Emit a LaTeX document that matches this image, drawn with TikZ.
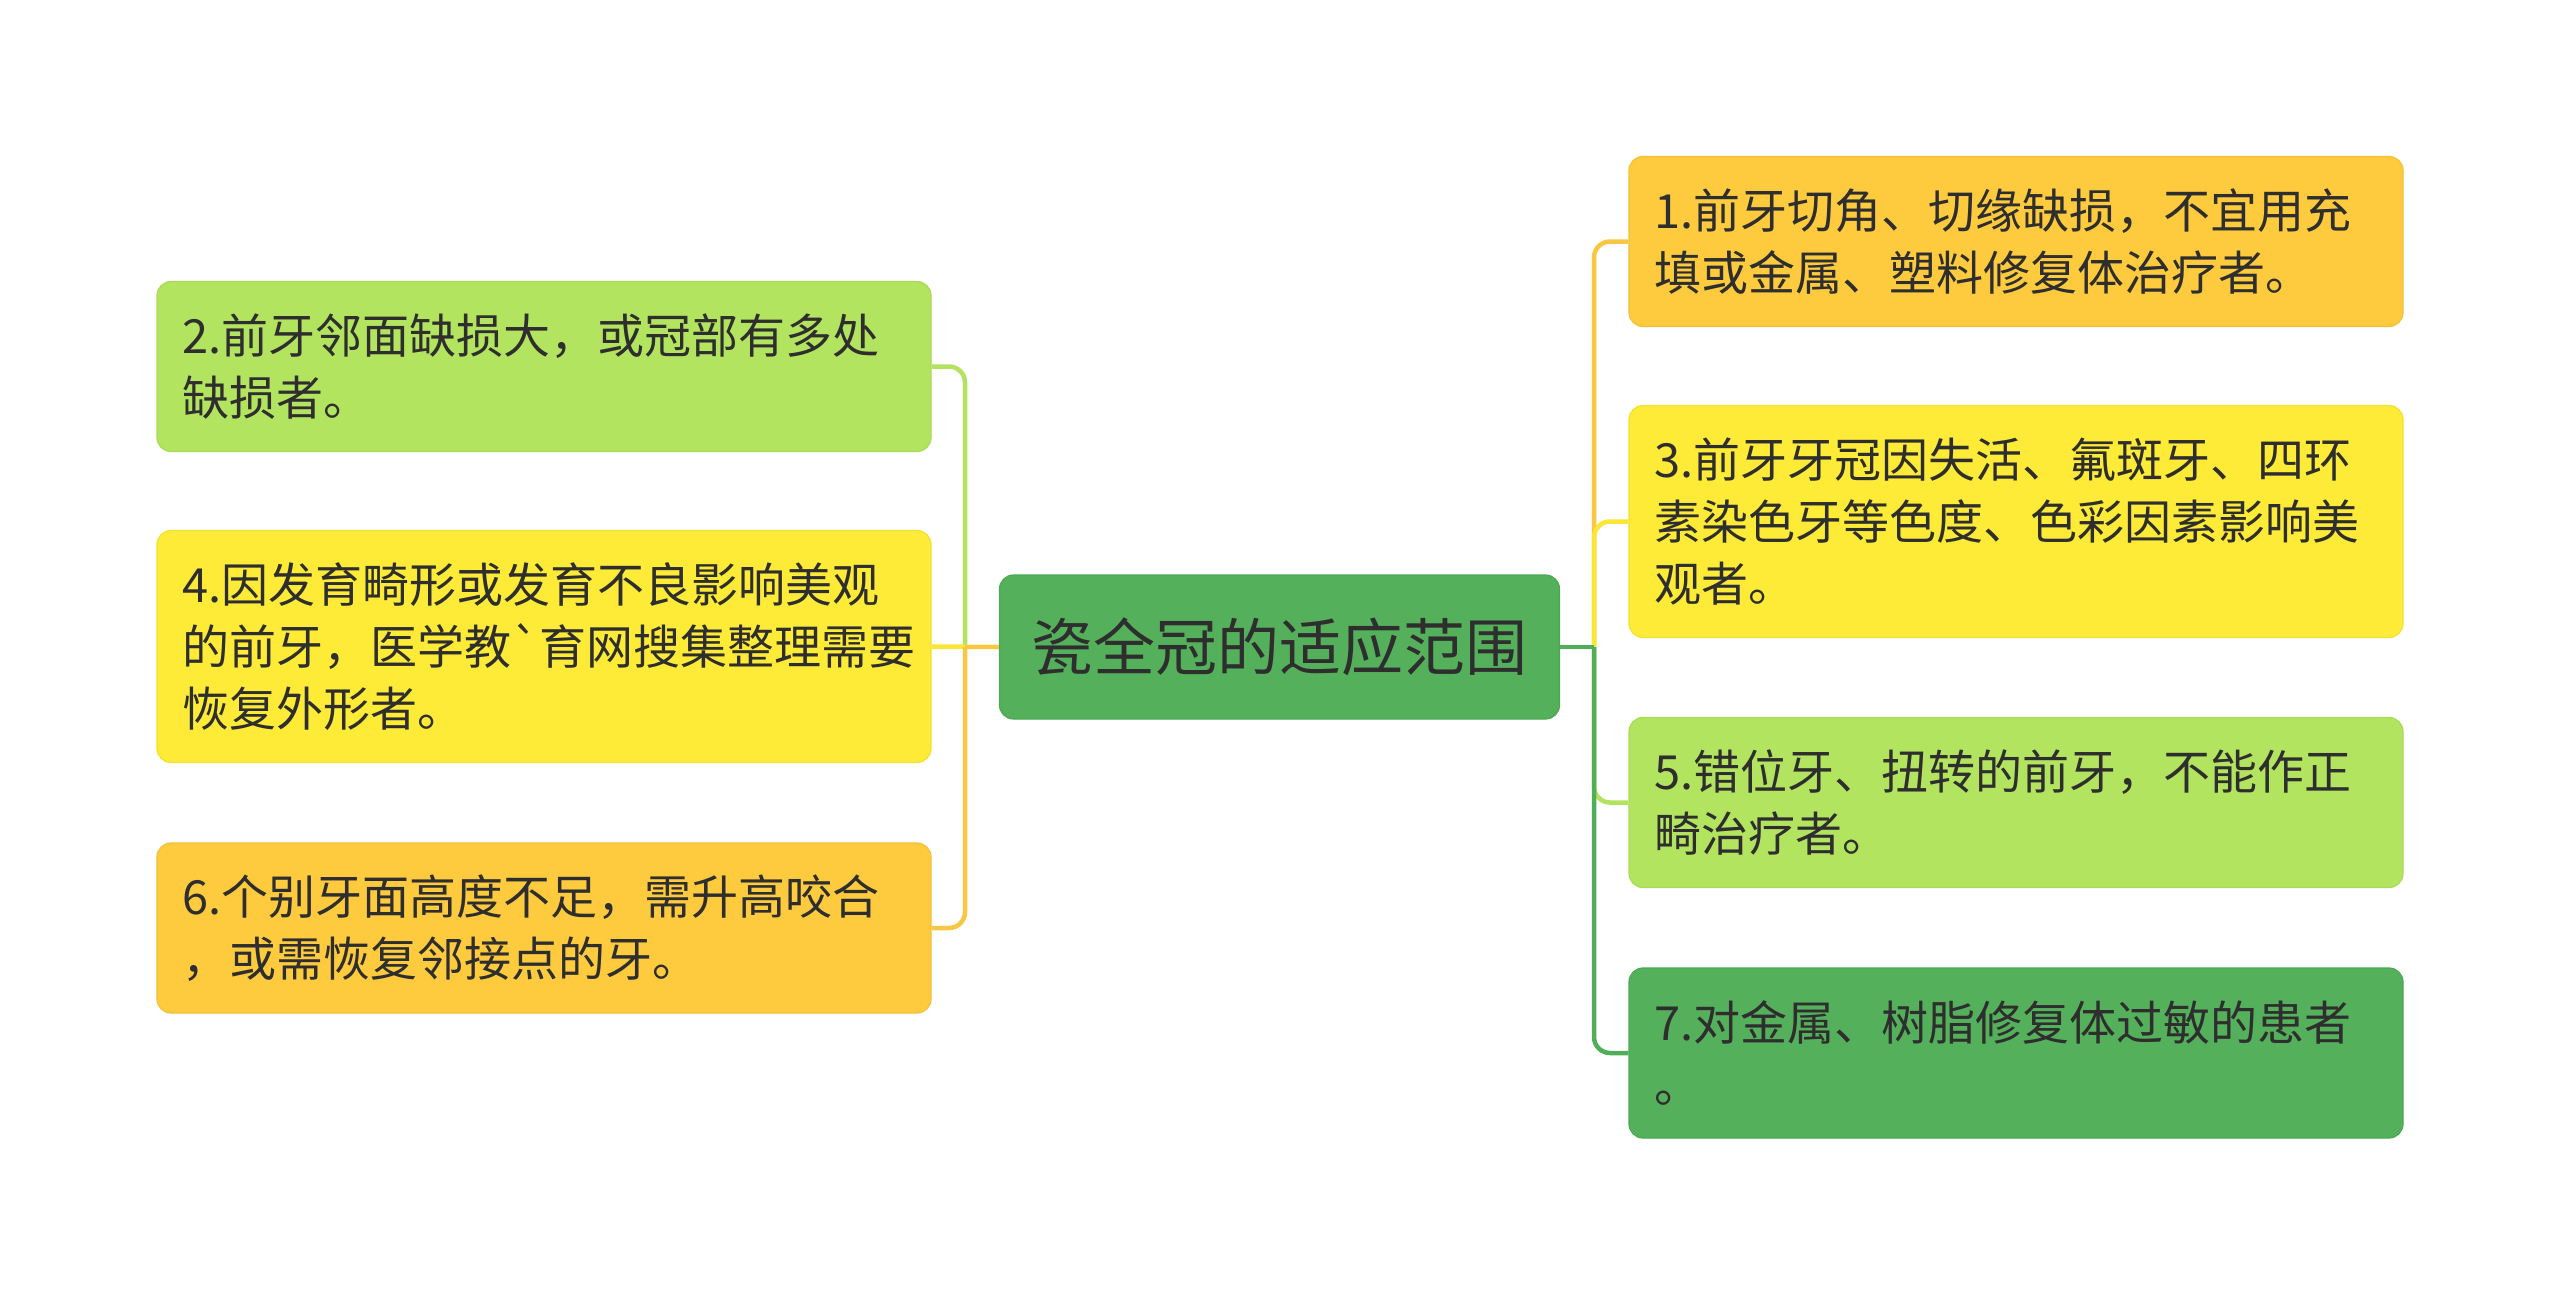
\documentclass[tikz,border=0pt]{standalone}
\usepackage{fontspec}
\newfontfamily\cjk[Ligatures=TeXOff]{Noto Sans CJK SC}
\definecolor{textc}{HTML}{2E2E2E}
\definecolor{gfill}{HTML}{55B05C}
\definecolor{gdraw}{HTML}{4BA852}
\definecolor{lgfill}{HTML}{B3E45F}
\definecolor{lgdraw}{HTML}{A9DB57}
\definecolor{yfill}{HTML}{FEEB38}
\definecolor{ydraw}{HTML}{F4E030}
\definecolor{ofill}{HTML}{FECA3E}
\definecolor{odraw}{HTML}{F3C038}
\definecolor{gline}{HTML}{4FAE57}
\definecolor{lgline}{HTML}{B3E35E}
\definecolor{yline}{HTML}{FBE535}
\definecolor{oline}{HTML}{F9C744}
\tikzset{
  leaf/.style={rectangle, rounded corners=14pt, minimum width=774pt,
    minimum height=170pt, text width=724pt, inner xsep=25pt, inner ysep=0pt,
    align=left, text=textc, line width=1.2pt,
    font=\cjk\fontsize{47}{62}\selectfont},
  tall/.style={minimum height=232pt},
  root/.style={rectangle, rounded corners=14pt, minimum width=560pt,
    minimum height=144pt, inner sep=0pt, text=textc, line width=1.2pt,
    fill=gfill, draw=gdraw, font=\cjk\fontsize{62}{70}\selectfont},
  conn/.style={line width=4.5pt},
  elbow/.style={conn, rounded corners=16pt}
}
\begin{document}
\begin{tikzpicture}[x=1pt,y=-1pt]
\useasboundingbox (0,0) rectangle (2560,1295);
\fill[white] (0,0) rectangle (2560,1295);

\node[root] (c) at (1279.5,647) {瓷全冠的适应范围};

\node[leaf, fill=lgfill, draw=lgdraw] (n2) at (544,366.5) {2.前牙邻面缺损大，或冠部有多处\\缺损者。};
\node[leaf, tall, fill=yfill, draw=ydraw] (n4) at (544,646.5) {4.因发育畸形或发育不良影响美观\\的前牙，医学教`育网搜集整理需要\\恢复外形者。};
\node[leaf, fill=ofill, draw=odraw] (n6) at (544,928) {6.个别牙面高度不足，需升高咬合\\，或需恢复邻接点的牙。};

\node[leaf, fill=ofill, draw=odraw] (n1) at (2016,241.5) {1.前牙切角、切缘缺损，不宜用充\\填或金属、塑料修复体治疗者。};
\node[leaf, tall, fill=yfill, draw=ydraw] (n3) at (2016,521.5) {3.前牙牙冠因失活、氟斑牙、四环\\素染色牙等色度、色彩因素影响美\\观者。};
\node[leaf, fill=lgfill, draw=lgdraw] (n5) at (2016,802.5) {5.错位牙、扭转的前牙，不能作正\\畸治疗者。};
\node[leaf, fill=gfill, draw=gdraw] (n7) at (2016,1053) {7.对金属、树脂修复体过敏的患者\\。};

\coordinate (jl) at (965,647);
\coordinate (jr) at (1594,647);

% left side
\draw[conn, lgline] (c.west) -- (jl);
\draw[elbow, lgline] (jl) |- (n2.east);
\draw[conn, yline] (c.west) -- (n4.east);
\draw[conn, oline] (c.west) -- (jl);
\draw[elbow, oline] (jl) |- (n6.east);

% right side
\draw[conn, oline] (c.east) -- (jr);
\draw[elbow, oline] (jr) |- (n1.west);
\draw[conn, yline] (c.east) -- (jr);
\draw[elbow, yline] (jr) |- (n3.west);
\draw[conn, lgline] (c.east) -- (jr);
\draw[elbow, lgline] (jr) |- (n5.west);
\draw[conn, gline] (c.east) -- (jr);
\draw[elbow, gline] (jr) |- (n7.west);
\end{tikzpicture}
\end{document}
